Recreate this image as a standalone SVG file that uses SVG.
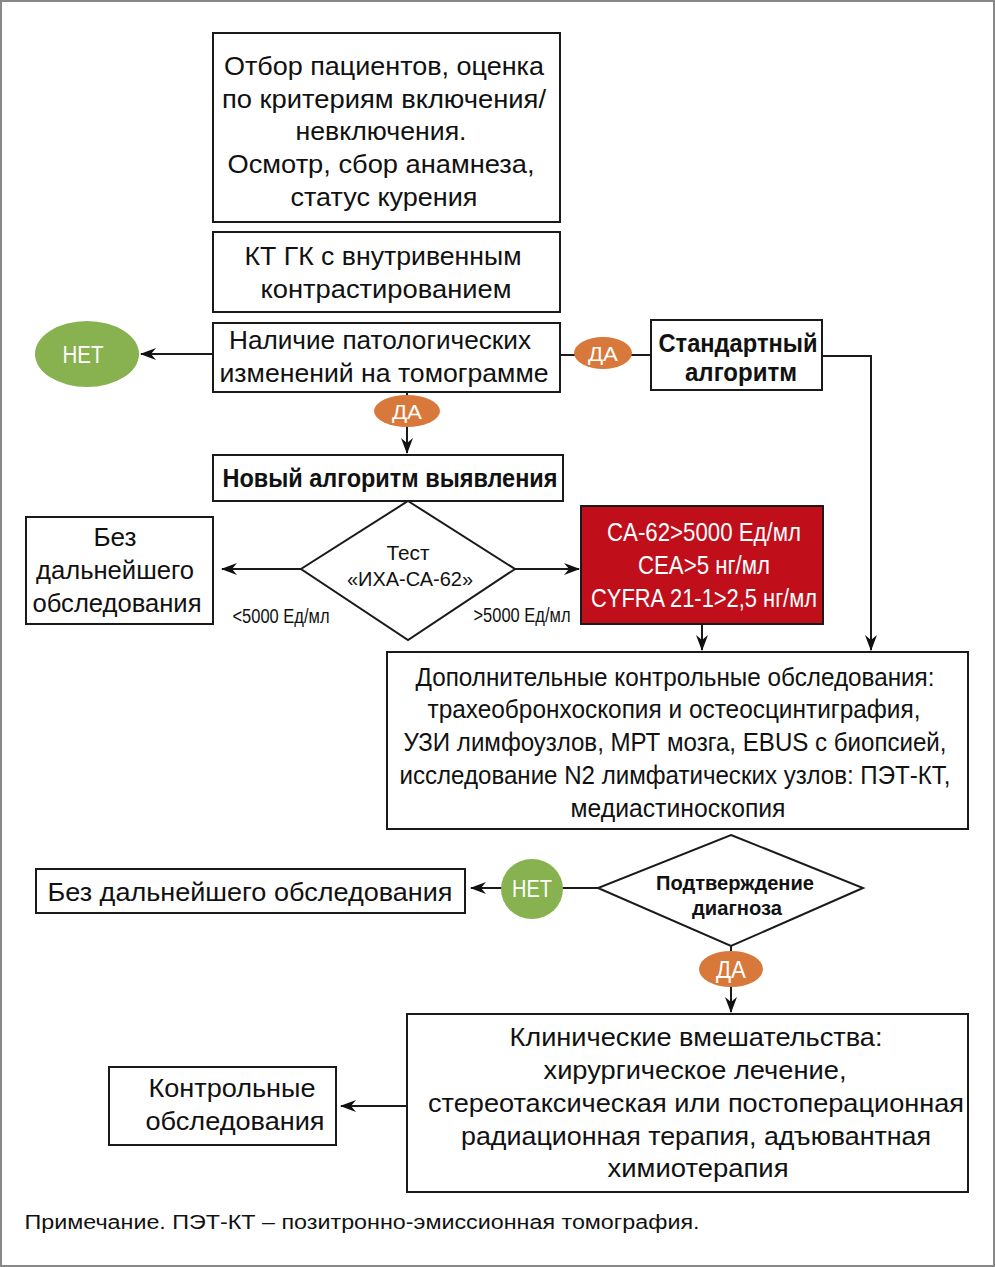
<svg xmlns="http://www.w3.org/2000/svg" width="995" height="1267" viewBox="0 0 995 1267">
<style>
text{font-family:"Liberation Sans",Arial,sans-serif;fill:#111;text-anchor:middle}
.b{fill:#fff;stroke:#1a1a1a;stroke-width:2}
.t{font-size:26px}
.bold{font-weight:bold}
.w{fill:#fff}
.c{fill:none;stroke:#1a1a1a;stroke-width:2}
.g{fill:#87b24f}
.o{fill:#d8783a}
</style>
<defs>
<marker id="ar" viewBox="0 0 16 12" refX="15" refY="6" markerWidth="16" markerHeight="12" markerUnits="userSpaceOnUse" orient="auto">
<path d="M0,0 L16,6 L0,12 L5,6 z" fill="#111"/>
</marker>
</defs>
<rect x="1" y="1" width="993" height="1265" fill="#fff" stroke="#888" stroke-width="2"/>

<g id="connectors">
<line class="c" x1="213" y1="354" x2="141" y2="354" marker-end="url(#ar)"/>
<line class="c" x1="560" y1="355" x2="651" y2="355"/>
<polyline class="c" points="822,356 871,356 871,650" marker-end="url(#ar)"/>
<line class="c" x1="407" y1="392" x2="407" y2="453" marker-end="url(#ar)"/>
<line class="c" x1="301" y1="569" x2="222" y2="569" marker-end="url(#ar)"/>
<line class="c" x1="515" y1="569" x2="579" y2="569" marker-end="url(#ar)"/>
<line class="c" x1="702" y1="624" x2="702" y2="650" marker-end="url(#ar)"/>
<line class="c" x1="598" y1="888" x2="471" y2="888" marker-end="url(#ar)"/>
<line class="c" x1="731" y1="946" x2="731" y2="1012" marker-end="url(#ar)"/>
<line class="c" x1="407" y1="1106" x2="341" y2="1106" marker-end="url(#ar)"/>
</g>

<g id="n1"><rect class="b" x="213" y="33" width="347" height="189"/>
<text class="t" x="384" y="75" textLength="320" lengthAdjust="spacingAndGlyphs">Отбор пациентов, оценка</text>
<text class="t" x="384" y="108" textLength="324" lengthAdjust="spacingAndGlyphs">по критериям включения/</text>
<text class="t" x="381" y="140" textLength="171" lengthAdjust="spacingAndGlyphs">невключения.</text>
<text class="t" x="381" y="173" textLength="307" lengthAdjust="spacingAndGlyphs">Осмотр, сбор анамнеза,</text>
<text class="t" x="384" y="206" textLength="187" lengthAdjust="spacingAndGlyphs">статус курения</text>
</g>

<g id="n2"><rect class="b" x="213" y="232" width="347" height="80"/>
<text class="t" x="383" y="265" textLength="277" lengthAdjust="spacingAndGlyphs">КТ ГК с внутривенным</text>
<text class="t" x="386" y="298" textLength="251" lengthAdjust="spacingAndGlyphs">контрастированием</text>
</g>

<g id="n3"><rect class="b" x="213" y="323" width="347" height="69"/>
<text class="t" x="380" y="349" textLength="302" lengthAdjust="spacingAndGlyphs">Наличие патологических</text>
<text class="t" x="384" y="382" textLength="329" lengthAdjust="spacingAndGlyphs">изменений на томограмме</text>
</g>

<g id="net1"><ellipse class="g" cx="87" cy="354" rx="52" ry="33"/>
<text class="w" x="83" y="363" font-size="23" textLength="41" lengthAdjust="spacingAndGlyphs">НЕТ</text></g>

<g id="da1"><ellipse class="o" cx="603" cy="353" rx="29" ry="16"/>
<text class="w" x="603" y="361" font-size="21" textLength="30" lengthAdjust="spacingAndGlyphs">ДА</text></g>

<g id="std"><rect class="b" x="651" y="320" width="171" height="70"/>
<text class="t bold" x="738" y="352" textLength="159" lengthAdjust="spacingAndGlyphs">Стандартный</text>
<text class="t bold" x="741" y="381" textLength="112" lengthAdjust="spacingAndGlyphs">алгоритм</text>
</g>

<g id="da2"><ellipse class="o" cx="407" cy="411" rx="33" ry="16"/>
<text class="w" x="407" y="419" font-size="21" textLength="30" lengthAdjust="spacingAndGlyphs">ДА</text></g>

<g id="new"><rect class="b" x="213" y="455" width="350" height="46"/>
<text class="t bold" x="390" y="487" textLength="335" lengthAdjust="spacingAndGlyphs">Новый алгоритм выявления</text>
</g>

<g id="test"><polygon class="b" points="408,501 515,569 408,640 301,569"/>
<text x="408" y="560" font-size="20" textLength="43" lengthAdjust="spacingAndGlyphs">Тест</text>
<text x="410" y="586" font-size="20" textLength="126" lengthAdjust="spacingAndGlyphs">«ИХА-СА-62»</text>
</g>
<text x="281" y="623" font-size="20" textLength="97" lengthAdjust="spacingAndGlyphs">&lt;5000 Ед/мл</text>
<text x="522" y="622" font-size="20" textLength="97" lengthAdjust="spacingAndGlyphs">&gt;5000 Ед/мл</text>

<g id="none1"><rect class="b" x="26" y="517" width="187" height="107"/>
<text class="t" x="115" y="546" textLength="43" lengthAdjust="spacingAndGlyphs">Без</text>
<text class="t" x="115" y="579" textLength="158" lengthAdjust="spacingAndGlyphs">дальнейшего</text>
<text class="t" x="117" y="612" textLength="169" lengthAdjust="spacingAndGlyphs">обследования</text>
</g>

<g id="red"><rect x="581" y="506" width="242" height="118" fill="#c10e1b" stroke="#1a1a1a" stroke-width="2"/>
<text class="t w" x="704" y="541" textLength="194" lengthAdjust="spacingAndGlyphs">CA-62&gt;5000 Ед/мл</text>
<text class="t w" x="704" y="574" textLength="132" lengthAdjust="spacingAndGlyphs">CEA&gt;5 нг/мл</text>
<text class="t w" x="704" y="607" textLength="226" lengthAdjust="spacingAndGlyphs">CYFRA 21-1&gt;2,5 нг/мл</text>
</g>

<g id="extra"><rect class="b" x="387" y="652" width="581" height="177"/>
<text class="t" x="675" y="686" textLength="519" lengthAdjust="spacingAndGlyphs">Дополнительные контрольные обследования:</text>
<text class="t" x="674" y="718" textLength="493" lengthAdjust="spacingAndGlyphs">трахеобронхоскопия и остеосцинтиграфия,</text>
<text class="t" x="675" y="751" textLength="543" lengthAdjust="spacingAndGlyphs">УЗИ лимфоузлов, МРТ мозга, EBUS с биопсией,</text>
<text class="t" x="675" y="784" textLength="551" lengthAdjust="spacingAndGlyphs">исследование N2 лимфатических узлов: ПЭТ-КТ,</text>
<text class="t" x="678" y="817" textLength="215" lengthAdjust="spacingAndGlyphs">медиастиноскопия</text>
</g>

<g id="confirm"><polygon class="b" points="731,835 863,888 731,946 598,888"/>
<text class="bold" x="735" y="890" font-size="21" textLength="158" lengthAdjust="spacingAndGlyphs">Подтверждение</text>
<text class="bold" x="737" y="915" font-size="21" textLength="90" lengthAdjust="spacingAndGlyphs">диагноза</text>
</g>

<g id="net2"><ellipse class="g" cx="532" cy="889" rx="31" ry="30"/>
<text class="w" x="532" y="897" font-size="23" textLength="40" lengthAdjust="spacingAndGlyphs">НЕТ</text></g>

<g id="none2"><rect class="b" x="36" y="869" width="429" height="44"/>
<text class="t" x="250" y="901" textLength="405" lengthAdjust="spacingAndGlyphs">Без дальнейшего обследования</text>
</g>

<g id="da3"><ellipse class="o" cx="731" cy="969" rx="32" ry="18"/>
<text class="w" x="731" y="978" font-size="23" textLength="30" lengthAdjust="spacingAndGlyphs">ДА</text></g>

<g id="clin"><rect class="b" x="407" y="1014" width="561" height="178"/>
<text class="t" x="696" y="1046" textLength="373" lengthAdjust="spacingAndGlyphs">Клинические вмешательства:</text>
<text class="t" x="695" y="1079" textLength="303" lengthAdjust="spacingAndGlyphs">хирургическое лечение,</text>
<text class="t" x="696" y="1112" textLength="536" lengthAdjust="spacingAndGlyphs">стереотаксическая или постоперационная</text>
<text class="t" x="696" y="1145" textLength="470" lengthAdjust="spacingAndGlyphs">радиационная терапия, адъювантная</text>
<text class="t" x="698" y="1177" textLength="181" lengthAdjust="spacingAndGlyphs">химиотерапия</text>
</g>

<g id="ctrl"><rect class="b" x="109" y="1067" width="227" height="78"/>
<text class="t" x="232" y="1097" textLength="167" lengthAdjust="spacingAndGlyphs">Контрольные</text>
<text class="t" x="235" y="1130" textLength="179" lengthAdjust="spacingAndGlyphs">обследования</text>
</g>

<text x="362" y="1229" font-size="20" textLength="675" lengthAdjust="spacingAndGlyphs">Примечание. ПЭТ-КТ – позитронно-эмиссионная томография.</text>
</svg>
